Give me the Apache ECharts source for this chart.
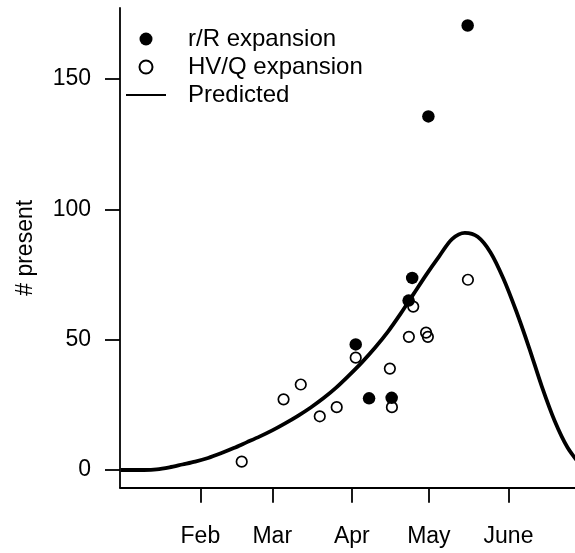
<!DOCTYPE html>
<html>
<head>
<meta charset="utf-8">
<script src="https://cdn.jsdelivr.net/npm/echarts@6/dist/echarts.min.js"></script>
<style>
html,body{margin:0;padding:0;background:#fff;}
#chart{width:575px;height:553px;}
</style>
</head>
<body>
<div id="chart"></div>
<script>
// Day-of-year positions and values
const rRDays   = [92.5, 97.7, 106.5, 113.1, 114.5, 120.8, 136.1];
const rRValues = [48.2, 27.5, 27.7, 65.0, 73.7, 135.7, 170.6];

const hvqDays   = [48.1, 64.4, 71.1, 78.5, 85.1, 92.5, 105.8, 106.6, 113.2, 114.9, 119.9, 120.6, 136.2];
const hvqValues = [3.2, 27.1, 32.8, 20.6, 24.1, 43.1, 38.9, 24.1, 51.1, 62.7, 52.7, 51.1, 73.0];

const predDays   = [1, 5, 10, 15, 20, 25, 30, 35, 40, 45, 50, 55, 60, 65, 70, 75, 80, 85, 90, 95, 100, 105, 110, 115, 120, 125, 130, 135, 140, 145, 150, 155, 160, 165, 170, 175, 180];
const predValues = [0, 0, 0, 0.2, 1.0, 2.1, 3.2, 4.6, 6.4, 8.4, 10.6, 12.8, 15.2, 17.9, 20.8, 24.0, 27.6, 31.7, 36.4, 41.4, 46.9, 53.0, 60.0, 67.5, 75.0, 82.0, 88.6, 91.0, 89.5, 83.5, 73.5, 61.0, 47.0, 32.0, 18.8, 8.6, 2.0];

const monthNames = ['Feb', 'Mar', 'Apr', 'May', 'June'];
const monthDays  = [32, 60, 91, 121, 152];
const yTicks     = [0, 50, 100, 150];

const zip = (a, b) => a.map((v, i) => [v, b[i]]);
const FONT = '"Liberation Sans", Arial, sans-serif';

const chart = echarts.init(document.getElementById('chart'), null, {renderer: 'canvas'});
chart.setOption({
  animation: false,
  backgroundColor: '#fff',
  textStyle: {fontFamily: FONT, color: '#000'},
  grid: {left: 120, right: 0, top: 8, bottom: 65.3, containLabel: false},
  xAxis: {
    type: 'value',
    min: 0.7,
    max: 177.9,
    axisLine: {show: true, onZero: false, lineStyle: {color: '#000', width: 1.8}},
    axisTick: {show: true, customValues: monthDays, length: 15, lineStyle: {color: '#000', width: 1.8}},
    axisLabel: {
      customValues: monthDays,
      margin: 37,
      fontSize: 23,
      fontFamily: FONT,
      color: '#000',
      formatter: v => monthNames[monthDays.indexOf(v)]
    },
    splitLine: {show: false}
  },
  yAxis: {
    type: 'value',
    min: -6.8,
    max: 177.3,
    name: '# present',
    nameLocation: 'middle',
    nameRotate: 90,
    nameGap: 83,
    nameTextStyle: {fontSize: 23, fontFamily: FONT, color: '#000'},
    axisLine: {show: true, onZero: false, lineStyle: {color: '#000', width: 1.8}},
    axisTick: {show: true, customValues: yTicks, length: 15, lineStyle: {color: '#000', width: 1.8}},
    axisLabel: {
      customValues: yTicks,
      margin: 29,
      fontSize: 23,
      fontFamily: FONT,
      color: '#000'
    },
    splitLine: {show: false}
  },
  legend: {
    orient: 'vertical',
    left: 126,
    top: 27,
    padding: 0,
    itemWidth: 40,
    itemHeight: 13,
    itemGap: 4,
    textStyle: {fontSize: 24, fontFamily: FONT, color: '#000', lineHeight: 24, padding: [0, 0, 0, 17]},
    data: [
      {name: 'r/R expansion', icon: 'circle'},
      {name: 'HV/Q expansion', icon: 'circle'},
      {name: 'Predicted', icon: 'path://M0,0H40V2H0Z', itemStyle: {color: '#000', borderWidth: 0}}
    ]
  },
  series: [
    {
      name: 'r/R expansion',
      type: 'scatter',
      symbol: 'circle',
      symbolSize: 12.5,
      itemStyle: {color: '#000', opacity: 1},
      data: zip(rRDays, rRValues),
      z: 3
    },
    {
      name: 'HV/Q expansion',
      type: 'scatter',
      symbol: 'circle',
      symbolSize: 10.5,
      itemStyle: {color: 'rgba(255,255,255,0)', borderColor: '#000', borderWidth: 1.7, opacity: 1},
      data: zip(hvqDays, hvqValues),
      z: 4
    },
    {
      name: 'Predicted',
      type: 'line',
      symbol: 'none',
      smooth: 0.3,
      clip: true,
      lineStyle: {color: '#000', width: 3.8},
      itemStyle: {color: '#000'},
      data: zip(predDays, predValues),
      z: 5
    }
  ]
});
</script>
</body>
</html>
